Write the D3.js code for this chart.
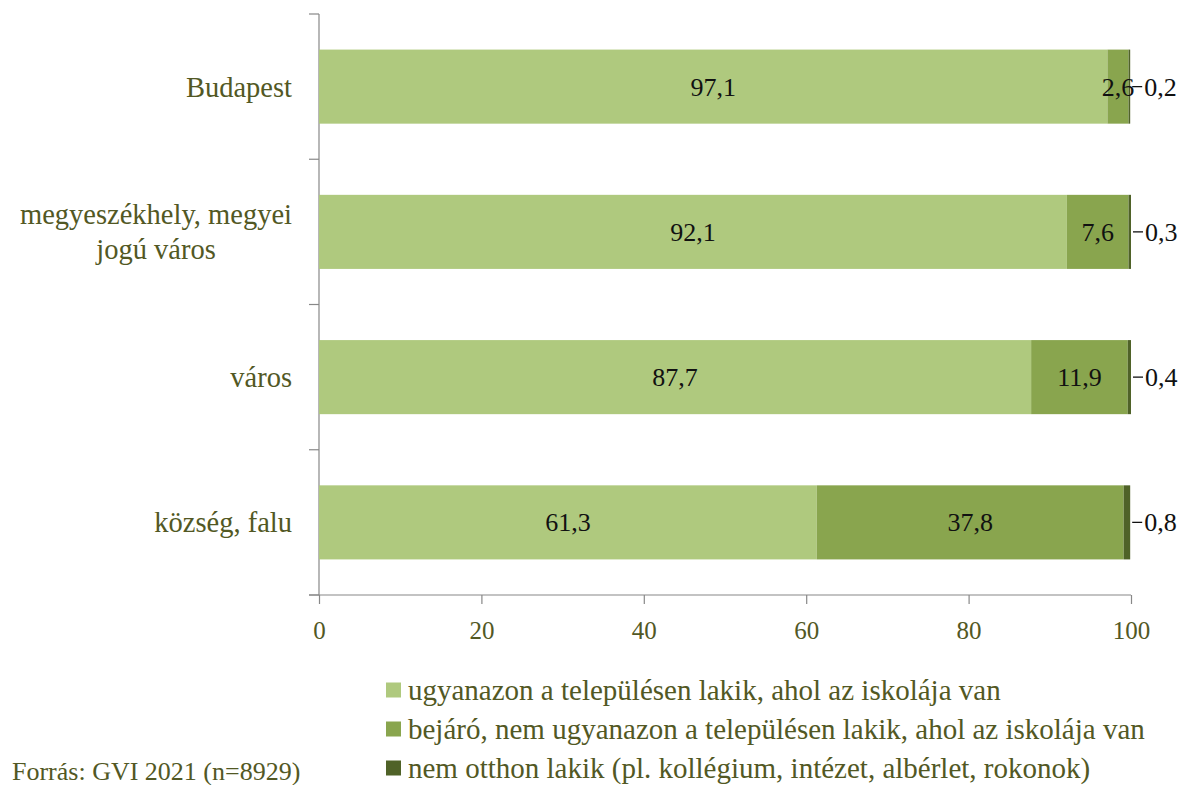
<!DOCTYPE html>
<html>
<head>
<meta charset="utf-8">
<script src="https://cdn.jsdelivr.net/npm/d3@7"></script>
<style>
  body { margin: 0; background: #fff; }
  text { font-family: "Liberation Serif", serif; }
</style>
</head>
<body>
<div class="chart"></div>
<script>
// data
const categories = [["Budapest"], ["megyeszékhely, megyei", "jogú város"], ["város"], ["község, falu"]];
const seriesNames = [
  "ugyanazon a településen lakik, ahol az iskolája van",
  "bejáró, nem ugyanazon a településen lakik, ahol az iskolája van",
  "nem otthon lakik (pl. kollégium, intézet, albérlet, rokonok)"
];
const helyben = [97.1, 92.1, 87.7, 61.3];
const bejaro = [2.6, 7.6, 11.9, 37.8];
const nemOtthon = [0.2, 0.3, 0.4, 0.8];
const xTicks = [0, 20, 40, 60, 80, 100];
const colors = ["#afc97e", "#89a54e", "#4f6228"];

const width = 1186, height = 785;
const margin = {top: 14, left: 319, right: 55, bottom: 190};
const innerW = width - margin.left - margin.right;
const innerH = height - margin.top - margin.bottom;
const textColor = "#525824";

const svg = d3.select(".chart")
  .append("svg")
  .attr("width", width)
  .attr("height", height);

const g = svg.append("g")
  .attr("transform", `translate(${margin.left},${margin.top})`);

const rows = categories.map((c, i) => ({
  idx: i,
  vals: [helyben[i], bejaro[i], nemOtthon[i]]
}));

const xScale = d3.scaleLinear().domain([0, 100]).range([0, innerW]);
const yScale = d3.scaleBand().domain(d3.range(categories.length)).range([0, innerH]).paddingInner(0.49).paddingOuter(0.245);

// y axis: boundary ticks between categories
const bandStep = innerH / categories.length;
g.append("line")
  .attr("x1", 0).attr("x2", 0).attr("y1", 0).attr("y2", innerH)
  .attr("stroke", "#888").attr("stroke-width", 1.2);
g.selectAll(".ytick")
  .data(d3.range(categories.length + 1))
  .enter().append("line")
  .attr("x1", -10).attr("x2", 0)
  .attr("y1", (d) => d * bandStep).attr("y2", (d) => d * bandStep)
  .attr("stroke", "#888").attr("stroke-width", 1.2);

// x axis
const xAxis = d3.axisBottom(xScale)
  .tickValues(xTicks)
  .tickSize(9)
  .tickPadding(17)
  .tickFormat(d3.format("d"));

g.append("g")
  .attr("class", "x-axis")
  .attr("transform", `translate(0,${innerH})`)
  .call(xAxis)
  .call((a) => a.select(".domain").attr("stroke", "#888").attr("stroke-width", 1.2).attr("d", `M-10,0H${innerW}`))
  .call((a) => a.selectAll(".tick line").attr("stroke", "#888").attr("stroke-width", 1.2))
  .call((a) => a.selectAll(".tick text")
    .attr("fill", textColor)
    .attr("font-size", 25)
    .attr("font-family", "Liberation Serif, serif"));

// stacked bars
const stack = d3.stack().keys([0, 1, 2]).value((d, k) => d.vals[k]);
const layers = stack(rows);

const layerG = g.selectAll(".layer")
  .data(layers)
  .enter().append("g")
  .attr("fill", (d, i) => colors[i]);

layerG.selectAll("rect")
  .data((d) => d)
  .enter().append("rect")
  .attr("x", (d) => xScale(d[0]))
  .attr("width", (d) => xScale(d[1]) - xScale(d[0]))
  .attr("y", (d) => yScale(d.data.idx))
  .attr("height", yScale.bandwidth());

const fmt = (v) => d3.format(".1f")(v).replace(".", ",");

// labels inside the first two segments
layers.slice(0, 2).forEach((layer, li) => {
  g.selectAll(".lbl" + li)
    .data(layer)
    .enter().append("text")
    .attr("x", (d) => (xScale(d[0]) + xScale(d[1])) / 2)
    .attr("y", (d) => yScale(d.data.idx) + yScale.bandwidth() / 2)
    .attr("dy", "0.35em")
    .attr("text-anchor", "middle")
    .attr("font-size", 26)
    .attr("fill", "#111")
    .text((d) => fmt(d.data.vals[li]));
});

// third segment: leader line and outside label
const last = layers[2];
g.selectAll(".leader")
  .data(last)
  .enter().append("line")
  .attr("x1", (d) => xScale(d[1]) + 2)
  .attr("x2", (d) => xScale(d[1]) + 12)
  .attr("y1", (d) => yScale(d.data.idx) + yScale.bandwidth() / 2)
  .attr("y2", (d) => yScale(d.data.idx) + yScale.bandwidth() / 2)
  .attr("stroke", "#111").attr("stroke-width", 1.3);
g.selectAll(".outlbl")
  .data(last)
  .enter().append("text")
  .attr("x", (d) => xScale(d[1]) + 14)
  .attr("y", (d) => yScale(d.data.idx) + yScale.bandwidth() / 2)
  .attr("dy", "0.35em")
  .attr("font-size", 26)
  .attr("fill", "#111")
  .text((d) => fmt(d.data.vals[2]));

// category labels, right aligned block, lines centered
categories.forEach((lines, i) => {
  const cy = yScale(i) + yScale.bandwidth() / 2;
  const lh = 35;
  const t = g.append("text")
    .attr("font-size", 28.5)
    .attr("fill", textColor)
    .attr("text-anchor", "middle");
  lines.forEach((ln, j) => {
    t.append("tspan")
      .attr("x", 0)
      .attr("y", cy + (j - (lines.length - 1) / 2) * lh)
      .attr("dy", "0.35em")
      .text(ln);
  });
  const bb = t.node().getBBox();
  t.attr("transform", `translate(${-27 - bb.width / 2},0)`);
});

// legend
const legend = svg.append("g").attr("transform", "translate(386,690)");
seriesNames.forEach((name, i) => {
  const row = legend.append("g").attr("transform", `translate(0,${i * 39})`);
  row.append("rect")
    .attr("x", 0).attr("y", -7.5).attr("width", 15).attr("height", 15)
    .attr("fill", colors[i]);
  row.append("text")
    .attr("x", 22).attr("y", 0).attr("dy", "0.35em")
    .attr("font-size", 29)
    .attr("fill", textColor)
    .text(name);
});

// source note
svg.append("text")
  .attr("x", 12).attr("y", 780)
  .attr("font-size", 26)
  .attr("fill", textColor)
  .text("Forrás: GVI 2021 (n=8929)");
</script>
</body>
</html>
